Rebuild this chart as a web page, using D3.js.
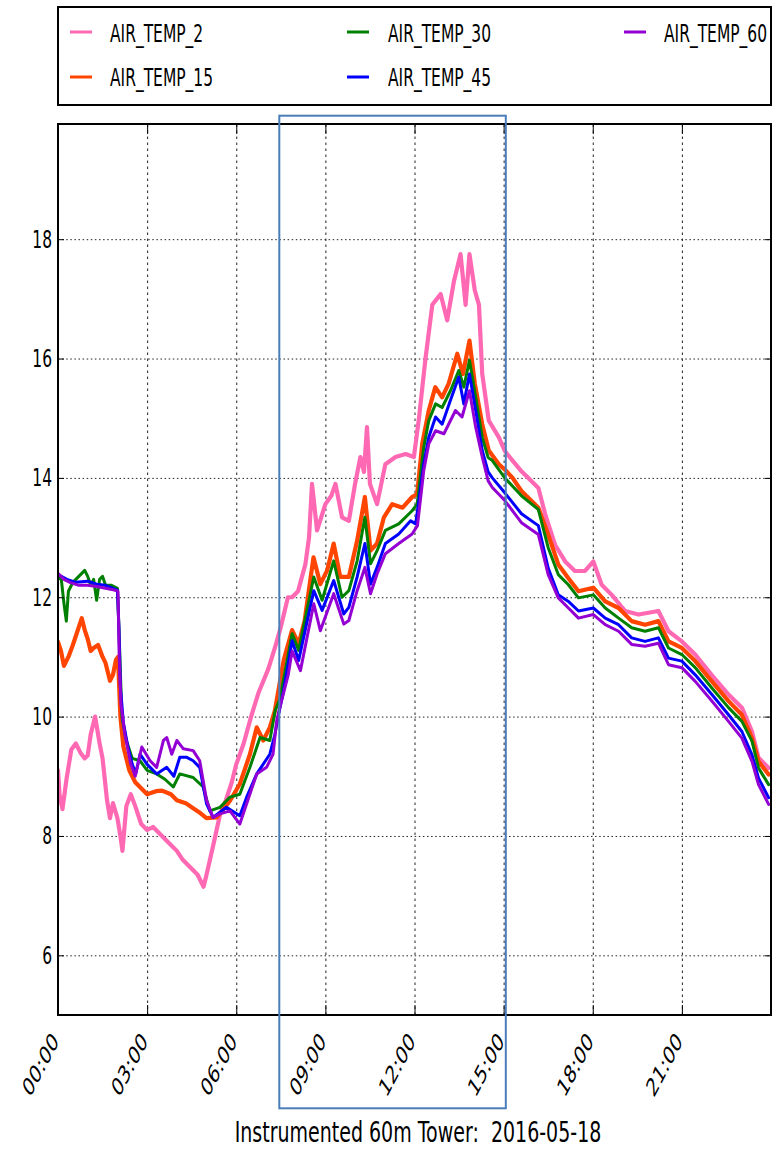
<!DOCTYPE html>
<html><head><meta charset="utf-8">
<script src="https://cdn.jsdelivr.net/npm/d3@7"></script>
<style>body{margin:0;background:#fff} text{font-family:"DejaVu Sans",sans-serif;fill:#000}</style>
</head><body><svg id="c" width="777" height="1150"></svg>
<script>
// [hour of day, temperature °C]
const airTemp2 = [[0,9.1],[0.05,8.7],[0.15,8.45],[0.3,9.0],[0.45,9.45],[0.6,9.55],[0.75,9.4],[0.9,9.3],[1.0,9.35],[1.1,9.7],[1.25,10.0],[1.4,9.55],[1.5,9.3],[1.65,8.6],[1.75,8.3],[1.85,8.55],[2.0,8.3],[2.1,8.0],[2.17,7.75],[2.3,8.5],[2.45,8.7],[2.6,8.5],[2.8,8.2],[3.0,8.1],[3.2,8.15],[3.5,8.0],[3.8,7.85],[4.0,7.75],[4.2,7.6],[4.5,7.45],[4.7,7.35],[4.9,7.15],[5.0,7.35],[5.25,7.9],[5.45,8.35],[5.65,8.6],[5.85,8.9],[6.0,9.2],[6.25,9.55],[6.5,10.0],[6.75,10.4],[7.08,10.8],[7.3,11.15],[7.5,11.5],[7.74,12.0],[7.88,12.0],[8.08,12.1],[8.33,12.56],[8.45,13.0],[8.55,13.9],[8.72,13.12],[9.0,13.56],[9.2,13.7],[9.34,13.9],[9.56,13.34],[9.79,13.28],[10.0,13.9],[10.18,14.35],[10.3,14.1],[10.4,14.85],[10.5,13.9],[10.74,13.56],[11.02,14.23],[11.36,14.35],[11.7,14.4],[11.98,14.35],[12.15,15.0],[12.37,16.0],[12.6,16.9],[12.88,17.08],[13.1,16.64],[13.33,17.3],[13.55,17.75],[13.72,16.9],[13.85,17.75],[14.03,17.14],[14.17,16.9],[14.28,15.74],[14.5,14.96],[14.84,14.68],[15.04,14.45],[15.3,14.29],[15.6,14.11],[16.17,13.83],[16.4,13.39],[16.73,12.88],[17.07,12.6],[17.4,12.44],[17.74,12.44],[18.02,12.6],[18.3,12.21],[18.64,12.04],[19.09,11.77],[19.54,11.71],[20.21,11.77],[20.55,11.43],[21.0,11.26],[21.45,11.04],[22.0,10.7],[22.57,10.37],[23.02,10.15],[23.36,9.75],[23.58,9.31],[23.92,9.14]];
const airTemp15 = [[0,11.25],[0.1,11.1],[0.2,10.85],[0.35,11.0],[0.5,11.2],[0.7,11.5],[0.8,11.65],[0.9,11.45],[1.0,11.3],[1.1,11.1],[1.2,11.15],[1.35,11.2],[1.5,11.0],[1.6,10.9],[1.75,10.6],[1.85,10.7],[1.95,10.95],[2.02,11.0],[2.1,10.0],[2.2,9.5],[2.4,9.1],[2.6,8.9],[2.8,8.8],[3.0,8.7],[3.3,8.75],[3.5,8.76],[3.8,8.7],[4.0,8.6],[4.3,8.55],[4.5,8.48],[4.8,8.38],[5.0,8.3],[5.34,8.31],[5.79,8.59],[6.12,8.87],[6.46,9.37],[6.69,9.82],[6.91,9.6],[7.13,9.82],[7.3,10.1],[7.42,10.44],[7.6,10.95],[7.88,11.45],[8.1,11.22],[8.3,11.6],[8.6,12.67],[8.83,12.22],[9.06,12.45],[9.28,12.9],[9.5,12.34],[9.79,12.34],[10.07,12.95],[10.33,13.68],[10.52,12.78],[10.74,12.9],[10.97,13.34],[11.25,13.56],[11.6,13.5],[11.92,13.68],[12.09,13.73],[12.26,14.57],[12.48,15.13],[12.7,15.52],[12.93,15.35],[13.15,15.58],[13.44,16.08],[13.63,15.74],[13.85,16.3],[14.03,15.58],[14.28,14.9],[14.5,14.46],[14.84,14.23],[15.1,14.11],[15.3,14.0],[15.6,13.78],[16.17,13.5],[16.5,13.05],[16.84,12.55],[17.18,12.32],[17.52,12.1],[18.02,12.16],[18.42,11.93],[18.87,11.82],[19.31,11.6],[19.76,11.54],[20.21,11.6],[20.55,11.26],[21.0,11.15],[21.45,10.93],[22.01,10.59],[22.57,10.26],[23.02,10.03],[23.36,9.64],[23.58,9.25],[23.92,9.03]];
const airTemp30 = [[0,12.3],[0.1,12.35],[0.2,11.9],[0.28,11.6],[0.35,12.1],[0.5,12.25],[0.7,12.35],[0.9,12.45],[1.0,12.35],[1.1,12.2],[1.2,12.3],[1.3,11.95],[1.4,12.3],[1.5,12.35],[1.6,12.2],[1.8,12.2],[2.0,12.15],[2.05,11.5],[2.15,10.0],[2.3,9.6],[2.5,9.3],[2.76,9.26],[3.0,9.1],[3.32,9.04],[3.6,8.95],[3.88,8.82],[4.1,9.04],[4.55,8.98],[4.89,8.82],[5.11,8.42],[5.45,8.48],[5.79,8.65],[6.12,8.7],[6.46,9.15],[6.8,9.65],[7.13,9.6],[7.31,10.1],[7.47,10.3],[7.88,11.39],[8.1,11.11],[8.61,12.34],[8.89,11.95],[9.28,12.61],[9.56,12.0],[9.79,12.11],[10.07,12.61],[10.33,13.34],[10.52,12.56],[10.74,12.78],[11.02,13.12],[11.47,13.23],[11.92,13.45],[12.09,13.56],[12.31,14.51],[12.48,14.96],[12.71,15.24],[12.93,15.18],[13.21,15.46],[13.49,15.8],[13.66,15.52],[13.85,15.97],[14.06,15.35],[14.28,14.68],[14.48,14.34],[14.62,14.29],[15.04,14.0],[15.6,13.7],[16.17,13.47],[16.5,12.83],[16.84,12.38],[17.18,12.21],[17.52,11.99],[18.02,12.04],[18.42,11.82],[18.87,11.65],[19.31,11.49],[19.76,11.43],[20.21,11.49],[20.55,11.15],[21.0,11.04],[21.45,10.82],[22.01,10.48],[22.57,10.15],[23.02,9.92],[23.36,9.59],[23.58,9.14],[23.92,8.86]];
const airTemp45 = [[0,12.38],[0.3,12.3],[0.6,12.25],[1.0,12.27],[1.3,12.22],[1.6,12.2],[2.0,12.12],[2.05,11.5],[2.1,10.5],[2.2,9.9],[2.35,9.5],[2.5,9.2],[2.62,9.05],[2.76,9.37],[3.0,9.2],[3.32,9.04],[3.66,9.15],[3.9,9.0],[4.1,9.32],[4.32,9.32],[4.55,9.26],[4.77,9.15],[5.0,8.54],[5.22,8.31],[5.67,8.48],[6.12,8.34],[6.35,8.65],[6.69,9.04],[7.13,9.37],[7.3,9.7],[7.45,10.1],[7.58,10.4],[7.88,11.27],[8.1,10.94],[8.61,12.11],[8.89,11.78],[9.28,12.28],[9.62,11.72],[9.79,11.83],[10.07,12.34],[10.33,12.9],[10.52,12.22],[10.74,12.5],[11.02,12.9],[11.47,13.06],[11.87,13.28],[12.04,13.23],[12.31,14.23],[12.48,14.68],[12.71,15.02],[12.93,14.9],[13.21,15.3],[13.49,15.69],[13.66,15.24],[13.85,15.74],[14.06,15.13],[14.28,14.46],[14.48,14.1],[14.62,14.0],[15.04,13.75],[15.6,13.4],[16.17,13.2],[16.5,12.49],[16.84,12.04],[17.18,11.93],[17.52,11.77],[18.02,11.82],[18.42,11.65],[18.87,11.54],[19.31,11.32],[19.76,11.26],[20.21,11.32],[20.55,10.98],[21.0,10.93],[21.45,10.7],[22.01,10.37],[22.57,10.03],[23.02,9.75],[23.36,9.36],[23.58,8.97],[23.92,8.64]];
const airTemp60 = [[0,12.4],[0.2,12.3],[0.4,12.25],[0.7,12.2],[1.0,12.2],[1.3,12.18],[1.6,12.15],[1.9,12.12],[2.02,12.1],[2.06,11.0],[2.12,10.2],[2.25,9.7],[2.45,9.2],[2.6,9.0],[2.82,9.49],[3.1,9.26],[3.32,9.15],[3.55,9.6],[3.66,9.65],[3.83,9.37],[4.0,9.6],[4.22,9.46],[4.55,9.43],[4.77,9.26],[5.0,8.6],[5.22,8.31],[5.45,8.37],[5.79,8.42],[6.12,8.2],[6.35,8.54],[6.69,9.04],[7.02,9.15],[7.24,9.37],[7.36,9.93],[7.47,10.16],[7.75,10.7],[7.88,11.1],[8.16,10.77],[8.61,11.89],[8.83,11.44],[9.28,12.06],[9.62,11.55],[9.79,11.61],[10.07,12.11],[10.33,12.5],[10.52,12.06],[10.74,12.39],[11.02,12.73],[11.47,12.9],[11.92,13.06],[12.1,13.2],[12.31,14.12],[12.48,14.57],[12.71,14.79],[12.99,14.74],[13.38,15.13],[13.6,15.02],[13.85,15.46],[14.06,14.85],[14.28,14.35],[14.48,13.95],[14.62,13.84],[15.04,13.62],[15.6,13.25],[16.17,13.05],[16.5,12.38],[16.84,11.99],[17.18,11.82],[17.52,11.65],[18.02,11.71],[18.42,11.54],[18.87,11.43],[19.31,11.21],[19.76,11.18],[20.21,11.23],[20.55,10.87],[21.0,10.82],[21.45,10.59],[22.01,10.26],[22.57,9.92],[23.02,9.64],[23.36,9.25],[23.58,8.86],[23.92,8.53]];

const seriesNames = ["AIR_TEMP_2","AIR_TEMP_15","AIR_TEMP_30","AIR_TEMP_45","AIR_TEMP_60"];
const seriesColors = ["#ff69b4","#ff4500","#008000","#0000ff","#9400d3"];
const xTickHours = [0,3,6,9,12,15,18,21];
const xTickLabels = ["00:00","03:00","06:00","09:00","12:00","15:00","18:00","21:00"];
const yTickValues = [6,8,10,12,14,16,18];
const chartTitle = "Instrumented 60m Tower:  2016-05-18";

const seriesData = [airTemp2, airTemp15, airTemp30, airTemp45, airTemp60];
const widths = [4.2, 4.2, 3, 3, 3];

const svg = d3.select("#c");
const M = {left:58, right:771, top:124, bottom:1015};
const x = d3.scaleLinear().domain([0,24]).range([M.left, M.right]);
const y = d3.scaleLinear().domain([5,19.93]).range([M.bottom, M.top]);
const H = M.bottom - M.top, W = M.right - M.left;

// grid
const gx = svg.append("g").attr("transform",`translate(0,${M.bottom})`)
  .call(d3.axisBottom(x).tickValues(xTickHours).tickSize(-H).tickFormat(""));
gx.select(".domain").remove();
gx.selectAll("line").attr("stroke","#222").attr("stroke-dasharray","2.5,3.5");
const gy = svg.append("g").attr("transform",`translate(${M.left},0)`)
  .call(d3.axisLeft(y).tickValues(yTickValues).tickSize(-W).tickFormat(""));
gy.select(".domain").remove();
gy.selectAll("line").attr("stroke","#222").attr("stroke-dasharray","1.5,2.6");

// lines
svg.append("clipPath").attr("id","clip").append("rect")
  .attr("x",M.left).attr("y",M.top).attr("width",W).attr("height",H);
const line = d3.line().x(d=>x(d[0])).y(d=>y(d[1]));
const lg = svg.append("g").attr("clip-path","url(#clip)");
seriesData.forEach((s,i)=>{
  lg.append("path").datum(s).attr("d",line).attr("fill","none")
    .attr("stroke",seriesColors[i]).attr("stroke-width",widths[i])
    .attr("stroke-linejoin","round").attr("stroke-linecap","round");
});

// axes (inner ticks)
const bx = svg.append("g").attr("transform",`translate(0,${M.bottom})`)
  .call(d3.axisBottom(x).tickValues(xTickHours).tickSizeInner(-10).tickSizeOuter(0)
        .tickFormat((d,i)=>xTickLabels[i]));
bx.select(".domain").remove();
bx.selectAll("line").attr("stroke","#000");
bx.selectAll("text").attr("x",0).attr("y",0).attr("dy",0)
  .attr("text-anchor","end").attr("font-size",16)
  .attr("transform","translate(1,27) scale(1,1.6) rotate(-50)");
const tx = svg.append("g").attr("transform",`translate(0,${M.top})`)
  .call(d3.axisTop(x).tickValues(xTickHours).tickSizeInner(-10).tickSizeOuter(0).tickFormat(""));
tx.select(".domain").remove(); tx.selectAll("line").attr("stroke","#000");
const ly = svg.append("g").attr("transform",`translate(${M.left},0)`)
  .call(d3.axisLeft(y).tickValues(yTickValues).tickSizeInner(-6).tickSizeOuter(0).tickPadding(6));
ly.select(".domain").remove(); ly.selectAll("line").attr("stroke","#000");
ly.selectAll("text").attr("font-size",15.5).attr("transform","scale(1,1.6)");
const ry = svg.append("g").attr("transform",`translate(${M.right},0)`)
  .call(d3.axisRight(y).tickValues(yTickValues).tickSizeInner(-6).tickSizeOuter(0).tickFormat(""));
ry.select(".domain").remove(); ry.selectAll("line").attr("stroke","#000");

// frame
svg.append("rect").attr("x",M.left).attr("y",M.top).attr("width",W).attr("height",H)
  .attr("fill","none").attr("stroke","#000").attr("stroke-width",2);

// legend
svg.append("rect").attr("x",58).attr("y",7).attr("width",713).attr("height",98)
  .attr("fill","#fff").attr("stroke","#000").attr("stroke-width",2);
const legPos = [[70,110,32,42],[70,110,77,86],[347,388,32,42],[347,388,77,86],[624,664,32,42]];
seriesNames.forEach((n,i)=>{
  const p = legPos[i];
  svg.append("line").attr("x1",p[0]).attr("x2",p[0]+22).attr("y1",p[2]).attr("y2",p[2])
    .attr("stroke",seriesColors[i]).attr("stroke-width",3);
  svg.append("text").attr("transform",`translate(${p[1]},${p[3]}) scale(1,1.6)`)
    .attr("font-size",15.5).text(n);
});

// title
svg.append("text").attr("transform","translate(418,1142) scale(1,1.5)")
  .attr("text-anchor","middle").attr("font-size",19).style("white-space","pre").text(chartTitle);

// highlight box
svg.append("rect").attr("x",279.3).attr("y",115.7).attr("width",226.5).attr("height",992.6)
  .attr("fill","none").attr("stroke","#4a7ebb").attr("stroke-width",2);
</script></body></html>
